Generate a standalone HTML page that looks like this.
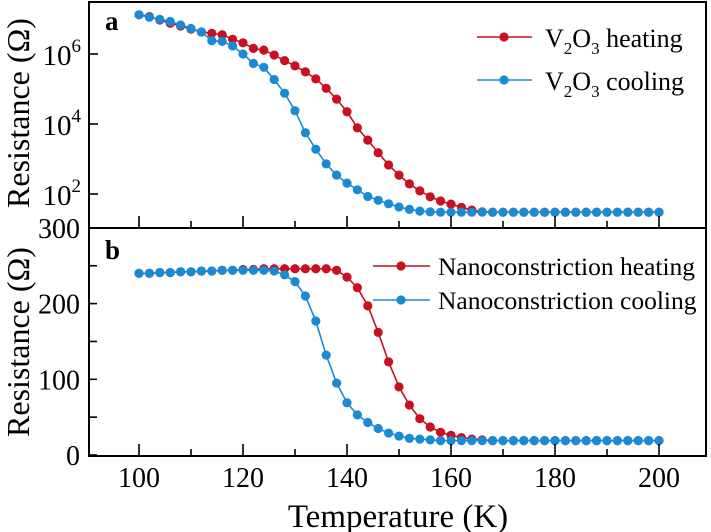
<!DOCTYPE html>
<html><head><meta charset="utf-8"><style>
body{margin:0;background:#fff}
svg{display:block;font-family:"Liberation Serif",serif}
</style></head><body>
<svg id="c" width="711" height="532" viewBox="0 0 711 532"></svg>
<script>
const temps=[];for(let t=100;t<=200;t+=2)temps.push(t);
const v2o3Heating=[7.12,7.07,6.97,6.88,6.8,6.71,6.63,6.59,6.55,6.42,6.32,6.16,6.11,5.97,5.81,5.66,5.49,5.29,5.02,4.71,4.35,3.89,3.54,3.18,2.83,2.54,2.29,2.09,1.92,1.8,1.71,1.62,1.54,1.49,1.48,1.48,1.48,1.48,1.48,1.48,1.48,1.48,1.48,1.48,1.48,1.48,1.48,1.48,1.48,1.48,1.48];
const v2o3Cooling=[7.12,7.05,6.99,6.93,6.83,6.73,6.63,6.38,6.36,6.23,6.0,5.73,5.62,5.27,4.88,4.38,3.75,3.28,2.86,2.54,2.31,2.12,1.93,1.82,1.72,1.63,1.56,1.51,1.49,1.48,1.48,1.48,1.48,1.48,1.48,1.48,1.48,1.48,1.48,1.48,1.48,1.48,1.48,1.48,1.48,1.48,1.48,1.48,1.48,1.48,1.48];
const nanoHeating=[240,240,241,241,242,242,243,243,244,244,245,245,246,246,246,246,246,246,246,244,235,221,197,162,123,90,66,48,37,30,26,23,21,20,19,19,19,19,19,19,19,19,19,19,19,19,19,19,19,19,19];
const nanoCooling=[240,240,241,241,242,242,243,243,244,244,244,244,244,243,238,229,210,177,132,95,69,53,43,35,29,25,22,21,20,19,19,19,19,19,19,19,19,19,19,19,19,19,19,19,19,19,19,19,19,19,19];
const xTicks=[100,120,140,160,180,200];
const topTicks=[2,4,6];
const botTicks=[0,100,200,300];
const L=89,R=706,T=2,M=228,B=456;
const X=t=>139+(t-100)*5.2;
const YT=l=>194-(l-2)*35;
const YB=v=>455-v*0.757;
const NS="http://www.w3.org/2000/svg",svg=document.getElementById('c');
function el(tag,a,parent){const e=document.createElementNS(NS,tag);for(const k in a)e.setAttribute(k,a[k]);(parent||svg).appendChild(e);return e;}
const RED="#c8101e",BLUE="#1a8ad4";
function series(xs,ys,yf,col,name){
  const g=el('g',{});
  
  
  el('polyline',{points:ys.map((v,i)=>X(xs[i])+','+yf(v)).join(' '),fill:'none',stroke:col,'stroke-width':1.6},g);
  ys.forEach((v,i)=>{const c=el('circle',{cx:X(xs[i]),cy:yf(v),r:4.6,fill:col},g);
    
    });
}
series(temps,v2o3Heating,YT,RED,'v2o3-heating-series');
series(temps,v2o3Cooling,YT,BLUE,'v2o3-cooling-series');
series(temps,nanoHeating,YB,RED,'nano-heating-series');
series(temps,nanoCooling,YB,BLUE,'nano-cooling-series');
const f1=el('rect',{x:L,y:T,width:R-L,height:M-T,fill:'none',stroke:'#000','stroke-width':2});

const f2=el('rect',{x:L,y:M,width:R-L,height:B-M,fill:'none',stroke:'#000','stroke-width':2});

for(let t=100;t<=200;t+=10){const len=t%20===0?12:7;
  el('line',{x1:X(t),x2:X(t),y1:M,y2:M-len,stroke:'#000','stroke-width':1.6});
  el('line',{x1:X(t),x2:X(t),y1:B,y2:B-len,stroke:'#000','stroke-width':1.6});}
xTicks.forEach(t=>{const tx=el('text',{x:X(t),y:487,'font-size':28,'text-anchor':'middle'});tx.textContent=t;
  });
topTicks.forEach(p=>{el('line',{x1:L,x2:L+9,y1:YT(p),y2:YT(p),stroke:'#000','stroke-width':1.6});
  const tx=el('text',{x:81,y:YT(p)+11,'font-size':29,'text-anchor':'end'});
  tx.innerHTML='10<tspan dy="-13" font-size="19">'+p+'</tspan>';
  });
for(let v=0;v<=300;v+=50){el('line',{x1:L,x2:L+8,y1:YB(v),y2:YB(v),stroke:'#000','stroke-width':1.6});}
botTicks.forEach(v=>{const tx=el('text',{x:80,y:YB(v)+10,'font-size':28,'text-anchor':'end'});tx.textContent=v;
  });
</script>
<svg width="711" height="532" style="position:absolute;left:0;top:0" font-family="Liberation Serif, serif">
<text x="105" y="30" font-size="27" font-weight="bold">a</text>
<text x="105" y="259" font-size="27" font-weight="bold">b</text>
<text transform="translate(29,113) rotate(-90)" font-size="32" text-anchor="middle">Resistance (Ω)</text>
<text transform="translate(29,342) rotate(-90)" font-size="32" text-anchor="middle">Resistance (Ω)</text>
<text x="398" y="527" font-size="33" text-anchor="middle">Temperature (K)</text>
<g>
<line x1="477" x2="532" y1="37" y2="37" stroke="#c8101e" stroke-width="1.6"/><circle cx="504" cy="37" r="4.6" fill="#c8101e"/>
<text x="545" y="47" font-size="26">V<tspan font-size="17" dy="7">2</tspan><tspan dy="-7">O</tspan><tspan font-size="17" dy="7">3</tspan><tspan dy="-7"> heating</tspan></text>
<line x1="477" x2="532" y1="80" y2="80" stroke="#1a8ad4" stroke-width="1.6"/><circle cx="504" cy="80" r="4.6" fill="#1a8ad4"/>
<text x="545" y="90" font-size="26">V<tspan font-size="17" dy="7">2</tspan><tspan dy="-7">O</tspan><tspan font-size="17" dy="7">3</tspan><tspan dy="-7"> cooling</tspan></text>
</g>
<g>
<line x1="373" x2="430" y1="266" y2="266" stroke="#c8101e" stroke-width="1.6"/><circle cx="401" cy="266" r="4.6" fill="#c8101e"/>
<text x="438" y="275" font-size="25.5">Nanoconstriction heating</text>
<line x1="373" x2="430" y1="300" y2="300" stroke="#1a8ad4" stroke-width="1.6"/><circle cx="401" cy="300" r="4.6" fill="#1a8ad4"/>
<text x="438" y="309" font-size="25.5">Nanoconstriction cooling</text>
</g>
</svg>
</body></html>
